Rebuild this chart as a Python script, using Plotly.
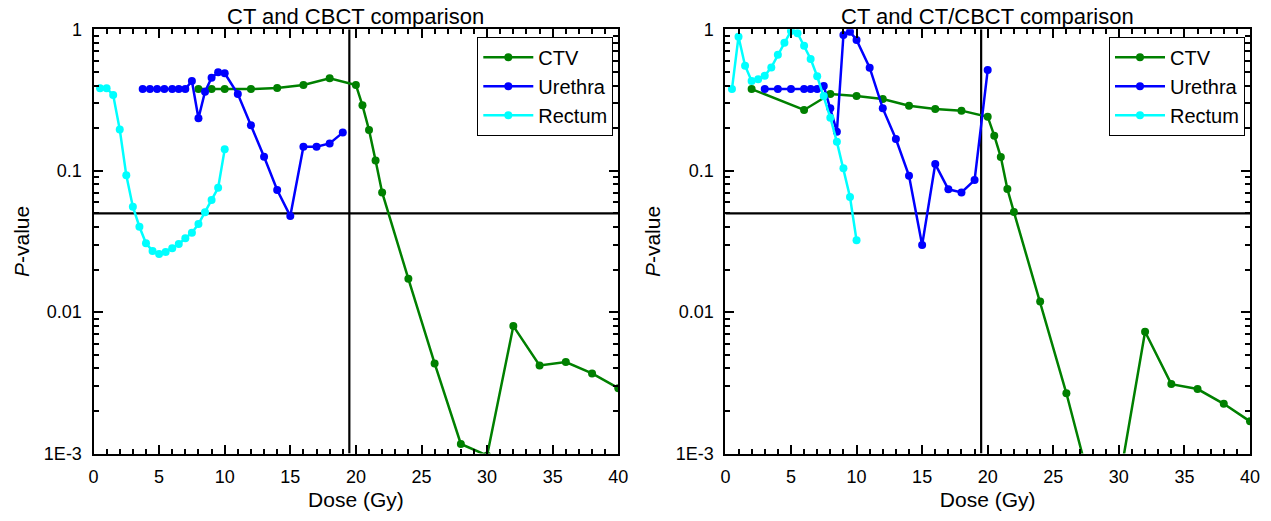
import plotly.graph_objects as go

# ---- CT vs CBCT: P-values per dose level ----
ctv_dose_a = [8, 9, 10, 12, 14, 16, 18, 20, 20.5, 21, 21.5, 22, 24, 26, 28, 30, 32, 34, 36, 38, 40]
ctv_p_a = [0.378, 0.378, 0.378, 0.378, 0.384, 0.404, 0.45, 0.404, 0.29, 0.194, 0.118, 0.0703,
           0.0172, 0.00434, 0.00117, 0.00097, 0.00797, 0.0042, 0.00444, 0.00369, 0.0029]

ure_dose_a = [3.75, 4.3, 4.85, 5.4, 6, 6.5, 7, 7.5, 8, 8.5, 9, 9.5, 10,
              11, 12, 13, 14, 15, 16, 17, 18, 19]
ure_p_a = [0.378, 0.378, 0.378, 0.378, 0.378, 0.378, 0.378, 0.431, 0.235, 0.362, 0.455, 0.496, 0.489,
           0.349, 0.2095, 0.1256, 0.073, 0.0478, 0.148, 0.148, 0.156, 0.186]

rec_dose_a = [0.5, 1, 1.5, 2, 2.5, 3, 3.5, 4, 4.5, 5, 5.5, 6, 6.5, 7, 7.5, 8, 8.5, 9, 9.5, 10]
rec_p_a = [0.383, 0.383, 0.343, 0.196, 0.0928, 0.0557, 0.0402, 0.0307, 0.0271, 0.0258,
           0.0266, 0.0283, 0.0303, 0.0333, 0.0365, 0.042, 0.0508, 0.062, 0.0758, 0.1416]

# ---- CT vs CT/CBCT: P-values per dose level ----
ctv_dose_b = [2, 6, 8, 10, 12, 14, 16, 18, 20, 20.5, 21, 21.5, 22, 24, 26, 28, 30, 32, 34, 36, 38, 40]
ctv_p_b = [0.378, 0.269, 0.349, 0.338, 0.321, 0.288, 0.273, 0.266, 0.241, 0.177, 0.125, 0.0743,
           0.051, 0.0119, 0.00267, 0.00052, 0.00061, 0.00727, 0.0031, 0.00286, 0.00225, 0.00169]

ure_dose_b = [3, 4, 5, 6, 6.5, 7, 7.5, 8, 8.5, 9, 9.5, 10, 11, 12, 13, 14, 15, 16, 17, 18, 19, 20]
ure_p_b = [0.378, 0.378, 0.378, 0.378, 0.378, 0.378, 0.397, 0.276, 0.189, 0.911, 0.962, 0.84,
           0.535, 0.276, 0.1676, 0.0922, 0.0298, 0.1115, 0.0739, 0.0703, 0.0859, 0.515]

rec_dose_b = [0.5, 1, 1.5, 2, 2.5, 3, 3.5, 4, 4.5, 5, 5.5, 6, 6.5, 7, 7.5, 8, 8.5, 9, 9.5, 10]
rec_p_b = [0.378, 0.887, 0.553, 0.431, 0.443, 0.47, 0.538, 0.661, 0.804, 0.973,
           0.937, 0.766, 0.617, 0.465, 0.338, 0.237, 0.16, 0.104, 0.0652, 0.0322]

panel_titles = ["CT and CBCT comparison", "CT and CT/CBCT comparison"]
series_names = ["CTV", "Urethra", "Rectum"]
series_colors = ["#008000", "#0000FF", "#00FFFF"]

x_ticks = [0, 5, 10, 15, 20, 25, 30, 35, 40]
y_ticks = [1e-3, 1e-2, 1e-1, 1]
y_tick_text = ["1E-3", "0.01", "0.1", "1"]
y_minor = [m * 10.0 ** e for e in (-3, -2, -1) for m in range(2, 10)]

ALPHA = 0.05          # significance level
DOSE_MARK = 19.5      # vertical reference dose (Gy)

FONT = "Liberation Sans, Arial, sans-serif"
W, H = 1271, 521

# plot-area pixel boxes -> paper domains
left_px = (93.5, 618.3)
right_px = (725.4, 1250.0)
top_px, bot_px = 29.3, 453.6
ydom = [1 - bot_px / H, 1 - top_px / H]

fig = go.Figure()

panels = [
    ("x", "y", [(ctv_dose_a, ctv_p_a), (ure_dose_a, ure_p_a), (rec_dose_a, rec_p_a)], "legend"),
    ("x2", "y2", [(ctv_dose_b, ctv_p_b), (ure_dose_b, ure_p_b), (rec_dose_b, rec_p_b)], "legend2"),
]

for xa, ya, series, leg in panels:
    # reference lines
    fig.add_trace(go.Scatter(x=[0, 40], y=[ALPHA, ALPHA], mode="lines",
                             line=dict(color="black", width=2.2), xaxis=xa, yaxis=ya,
                             showlegend=False, hoverinfo="skip"))
    fig.add_trace(go.Scatter(x=[DOSE_MARK, DOSE_MARK], y=[1e-3, 1], mode="lines",
                             line=dict(color="black", width=2.2), xaxis=xa, yaxis=ya,
                             showlegend=False, hoverinfo="skip"))
    for (d, p), name, col in zip(series, series_names, series_colors):
        fig.add_trace(go.Scatter(x=d, y=p, name=name, mode="lines+markers",
                                 line=dict(color=col, width=2.5),
                                 marker=dict(color=col, size=8),
                                 xaxis=xa, yaxis=ya, legend=leg))

axis_common = dict(
    showline=True, linecolor="black", linewidth=2, mirror="ticks",
    ticks="inside", tickcolor="black", tickwidth=1.5, ticklen=9,
    showgrid=False, zeroline=False, automargin=False,
    tickfont=dict(family=FONT, size=18, color="black"),
)

for i, (xpx, xa, ya) in enumerate([(left_px, "xaxis", "yaxis"), (right_px, "xaxis2", "yaxis2")]):
    xdom = [xpx[0] / W, xpx[1] / W]
    anchor_y = "y" if i == 0 else "y2"
    anchor_x = "x" if i == 0 else "x2"
    fig.update_layout(**{
        xa: dict(axis_common, domain=xdom, anchor=anchor_y, range=[0, 40],
                 tickmode="array", tickvals=x_ticks,
                 minor=dict(ticks="inside", ticklen=5, tickwidth=1.5, tickcolor="black",
                            dtick=1, tick0=0),
                 title=dict(text="Dose (Gy)", font=dict(family=FONT, size=21, color="black"),
                            standoff=6),
                 ticklabelstandoff=6),
        ya: dict(axis_common, domain=ydom, anchor=anchor_x, type="log", range=[-3, 0],
                 tickmode="array", tickvals=y_ticks, ticktext=y_tick_text,
                 minor=dict(ticks="inside", ticklen=5, tickwidth=1.5, tickcolor="black",
                            tickmode="array", tickvals=y_minor),
                 title=dict(text="<i>P</i>-value", font=dict(family=FONT, size=21, color="black"),
                            standoff=9),
                 ticklabelstandoff=6),
    })

legend_common = dict(
    bgcolor="white", bordercolor="black", borderwidth=1,
    font=dict(family=FONT, size=20, color="black"),
    xanchor="right", yanchor="top", tracegroupgap=0, itemwidth=50,
)
fig.update_layout(
    legend=dict(legend_common, x=613.3 / W, y=1 - 36.7 / H),
    legend2=dict(legend_common, x=1245.0 / W, y=1 - 36.7 / H),
)

for txt, xpx in zip(panel_titles, [left_px, right_px]):
    fig.add_annotation(text=txt, x=(xpx[0] + xpx[1]) / 2 / W, y=1 - 16.5 / H,
                       xref="paper", yref="paper", showarrow=False,
                       font=dict(family=FONT, size=22, color="black"),
                       xanchor="center", yanchor="middle")

fig.update_layout(
    width=W, height=H, margin=dict(l=0, r=0, t=0, b=0),
    paper_bgcolor="white", plot_bgcolor="white",
    font=dict(family=FONT, color="black"),
)

fig.write_html("out.html")
